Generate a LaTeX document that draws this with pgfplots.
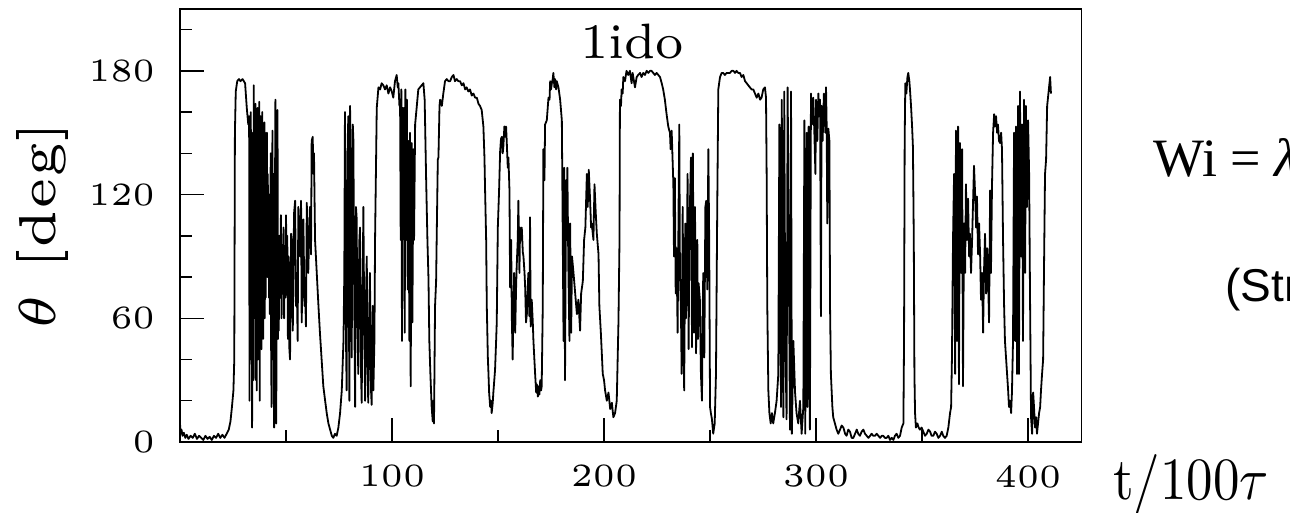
\documentclass[border=0pt]{standalone}
\usepackage{fontspec}
\usepackage{graphicx}
\usepackage{pgfplots}
\pgfplotsset{compat=1.18}
\newfontfamily\timesf{Liberation Serif}
\newfontfamily\arialf{Liberation Sans}
\newcommand{\tl}[1]{\scalebox{6.5}{\fontsize{5}{6}\selectfont #1}}
\begin{document}
\begin{tikzpicture}[x=1pt,y=1pt]
\useasboundingbox (0,0) rectangle (1290,513);
\begin{axis}[
  at={(180pt,71pt)}, anchor=south west,
  scale only axis, width=901.7pt, height=433pt,
  xmin=0, xmax=425.3, ymin=0, ymax=210,
  axis line style={line width=1.4pt, black},
  tick style={line width=1.4pt, black},
  tick align=inside, tick pos=left,
  major tick length=24pt, minor tick length=12pt,
  xtick={100,200,300,400},
  xticklabels={\tl{100},\tl{200},\tl{300},\tl{400}},
  minor xtick={50,150,250,350},
  ytick={0,60,120,180},
  yticklabels={\tl{0},\tl{60},\tl{120},\tl{180}},
  minor ytick={20,40,80,100,140,160,200},
  xticklabel style={inner sep=0pt, anchor=north, yshift=-23pt},
  yticklabel style={inner sep=0pt, anchor=east, xshift=-25pt},
]
\addplot[black, line width=1.8pt, line join=round, no markers] coordinates {
(0,9)(0.3,4)(0.7,6)(1.2,3)(1.8,4.5)(2.5,2)(3.2,3.5)(4,1.5)(5,3)(6,2)(7,4)(8,1.5)(9,3)(10,2)(11,1)(12,3)(13,1.5)(14,2.5)(15,1)(16,3)(17,2)(18,4)(19,2)(20,3.5)(21,2)(22,4)(23,6)(23.8,10)(24.5,17)(25.2,25)(25.6,40)(25.9,150)(26.3,170)(27,175)(27.8,176)(28.5,175)(29.5,176)(30.7,174)(31.5,162)(32.2,154)
(32.6,158)(32.8,20)(33.0,150)(33.2,40)(33.4,160)(33.6,60)(33.8,140)(34.0,7)(34.2,100)(34.4,150)(34.6,30)(34.8,173)(35.0,60)(35.2,160)(35.4,90)(35.6,164)(35.8,30)(36.0,120)(36.2,25)(36.4,150)(36.6,162)(36.8,40)(37.0,150)(37.2,50)(37.4,165)(37.6,20)(37.8,140)(38.0,158)(38.2,60)(38.4,45)(38.6,150)(38.8,160)(39.0,70)(39.2,50)(39.4,140)(39.6,100)(39.8,155)(40.0,60)(40.2,150)(40.4,70)(40.6,140)(40.8,95)(41.0,150)(41.2,80)(41.4,130)(41.6,100)(41.8,116)(42.0,70)(42.2,120)(42.4,62)(42.6,110)(42.8,140)(43.0,40)(43.2,17)(43.4,90)(43.6,151)(43.8,60)(44.0,40)(44.2,130)(44.4,7)(44.6,60)(44.8,120)(45.0,166)(45.2,60)(45.4,9)(45.6,80)(45.8,100)(46.0,161)(46.2,50)(46.4,90)(46.6,54)(46.8,100)(47.0,83)(47.3,70)(47.6,110)(47.9,60)(48.2,85)(48.5,75)(48.8,104)(49.1,60)(49.4,95)(49.7,70)(50.0,110)(50.3,80)(50.6,100)(50.9,50)(51.2,90)(51.6,45)
(51.9,40)(52.4,101)(52.7,98)(53.2,54)(53.8,111)(54.3,117)(54.7,66)(55.0,82)(55.5,49)(55.8,114)(56.6,90)(57.1,117)(57.4,58)(58.2,108)(58.7,66)(59.0,74)(59.4,56)(59.8,116)(60.5,82)(61.0,104)(61.3,114)(61.8,91)(62.1,146)(62.6,148)(62.9,130)(63.2,140)(63.7,98)(64.5,82)(65.3,66)(66.0,53)(66.8,40)(67.6,27)(69.2,14)(70.0,9)(70.8,6)(71.6,3)(72.3,2)(73.1,4)(73.9,3)(74.7,7)(75.5,14)(76.3,25)(77.1,49)(77.5,82)(77.8,160)(78.1,80)(78.3,49)(78.6,25)(78.9,120)(79.1,146)(79.4,158)(79.7,60)(79.9,20)(80.2,163)(80.5,140)(80.7,98)(81.0,41)(81.3,120)(81.5,154)(81.8,146)(82.0,100)(82.2,66)(82.6,17)(82.8,90)(83.0,114)(83.3,109)(83.6,70)(83.8,49)(84.1,33)(84.4,80)(84.6,98)(84.9,104)(85.2,60)(85.4,33)(85.7,19)(86.0,60)(86.2,82)(86.5,114)(86.8,70)(87.0,49)(87.3,20)(87.6,60)(87.8,74)(88.1,90)(88.3,50)(88.5,33)(88.8,19)(89.1,50)(89.3,66)(89.6,82)(89.9,40)(90.1,25)(90.4,18)(90.7,50)(90.9,66)(91.2,25)(91.7,49)(92.0,98)(92.5,138)(92.8,162)(93.6,172)(94.4,171)(95.1,174)(95.9,173)(96.7,171)(97.5,173)(98.3,169)(99.1,172)(99.9,170)(100.6,167)(101.4,175)(102.2,178)(102.7,172)(103.0,174)(103.5,163)
(103.8,166)(104.1,98)(104.4,171)(104.7,49)(105.1,162)(105.4,114)(105.7,162)(106.0,53)(106.3,171)(106.6,98)(107.0,166)(107.4,74)(107.7,146)(108.2,49)(108.5,150)(108.8,27)(109.3,145)(109.6,58)(110.1,142)(110.4,98)(110.9,154)(111.7,163)(112.4,171)(113.2,172)(114.0,173)(114.8,174)(115.4,166)(116.1,127)(116.7,98)(117.2,79)(117.6,49)(118.1,33)(118.7,17)(119.2,10)(119.5,20)(119.8,9)(120.3,66)(120.8,78)(121.1,101)(121.6,137)(121.9,138)(122.4,163)(122.7,166)(123.5,163)(124.2,169)(125.0,175)(125.8,176)(126.6,175)(127.4,175)(128.2,177)(129.0,178)(129.7,175)(130.5,176)(131.3,175)(132.1,175)(132.9,173)(133.7,174)(134.5,171)(135.2,172)(136.0,170)(136.8,171)(137.6,168)(138.4,169)(139.2,167)(140.0,167)(140.8,164)(141.5,163)(142.3,161)(143.1,153)(143.6,138)(143.9,122)(144.4,98)(144.7,66)(145.2,41)(145.5,33)(145.8,24)(146.3,17)(146.7,20)(147.0,14)(147.5,19)(147.8,24)(148.6,35)(149.1,49)(149.4,58)(149.9,104)(150.5,122)(151.0,141)(151.4,147)(151.8,148)(152.2,140)(152.5,143)(153.0,153)(153.3,148)(153.8,153)(154.1,146)(154.6,133)(154.9,138)(155.4,122)
(155.7,75)(156.2,98)(156.5,61)(156.9,40)(157.3,66)(157.6,82)(158.1,53)(158.5,74)(158.8,85)(159.3,98)(159.6,117)(160.1,82)(160.4,104)(160.7,98)(161.2,104)(161.7,92)(162.0,90)(162.5,82)(162.8,75)(163.2,58)(163.6,62)(164.0,74)(164.3,82)(164.8,61)(165.1,109)(165.4,56)(165.9,69)(166.4,58)(166.7,49)(167.5,33)(168.0,24)(168.3,28)(168.8,22)(169.1,27)(169.5,23)(169.9,30)(170.3,25)(170.6,27)(171.1,66)(171.4,142)(171.9,127)(172.2,154)(173.0,156)(173.8,167)(174.3,166)(174.6,175)(175.0,171)(175.4,174)(175.8,176)(176.1,179)(176.6,172)(176.9,176)(177.4,171)(177.7,175)(178.5,172)(179.3,166)(180.1,156)(180.5,104)(180.9,49)(181.2,133)(181.6,30)(182.1,127)(182.4,98)(182.7,133)(183.2,82)(183.7,49)(184.0,106)(184.5,53)(184.9,90)(185.6,82)(186.4,72)(187.2,62)(187.9,69)(188.7,54)(189.2,72)(190.0,78)(190.6,98)(191.2,104)(191.9,130)(192.3,114)(192.8,132)(193.4,118)(193.9,104)(194.2,106)(195.0,98)(195.5,125)(196.1,111)(196.6,101)(197.4,91)(197.8,66)(198.5,53)(199.4,33)(200.0,30)(200.5,25)(201.3,20)(202.1,24)(202.9,16)(203.7,19)(204.4,12)(205.2,14)(206.0,20)(206.8,58)(207.3,98)
(207.5,166)(208.0,163)(208.3,171)(208.8,169)(209.1,177)(209.9,175)(210.6,180)(211.4,178)(212.2,180)(213.0,174)(213.5,179)(213.8,177)(214.6,172)(215.4,177)(216.1,178)(217.0,179)(217.7,177)(218.5,179)(219.3,178)(220.1,180)(220.9,179)(221.7,180)(222.4,180)(223.2,179)(224.0,178)(224.8,179)(225.6,178)(226.4,177)(227.2,174)(227.9,171)(228.7,166)(229.5,159)(230.3,153)(230.8,151)(231.1,150)(231.4,142)(231.9,151)(232.3,138)(232.7,125)(233.0,90)(233.4,128)(233.8,72)(234.2,94)(234.7,53)(235.2,119)(235.5,154)(235.8,82)(236.3,62)(236.6,33)(237.1,114)(237.4,61)(237.8,25)(238.3,106)(238.6,60)(239.0,82)(239.4,130)(239.9,45)(240.2,90)(240.5,114)(241.0,138)(241.5,46)(241.9,140)(242.4,53)(242.6,90)(242.9,114)(243.4,43)(243.7,80)(244.0,98)(244.3,50)(244.6,77)(245.2,69)(245.7,33)(246.2,20)(246.5,60)(246.8,82)(247.3,41)(247.8,114)(248.2,117)(248.7,74)(249.2,142)(249.6,98)(250.0,17)(250.4,14)(250.9,11)(251.5,4)(252.2,9)(252.8,33)(253.4,114)(253.9,171)(254.7,177)(255.5,179)(256.2,179)(257.0,178)(257.8,179)(258.6,179)
(259.4,179)(260.2,180)(261.0,180)(261.8,179)(262.5,180)(263.3,179)(264.1,179)(264.9,177)(265.7,178)(266.5,175)(267.3,174)(268.0,173)(268.8,172)(269.6,171)(270.4,171)(271.2,169)(272.0,167)(272.8,169)(273.6,166)(274.3,167)(275.1,171)(275.9,172)(276.4,167)(276.7,130)(277.0,66)(277.5,25)(278.0,14)(278.6,9)(279.2,14)(279.8,9)(280.6,14)(281.4,20)(282.2,33)(282.7,154)(283.0,82)(283.5,17)(283.8,166)(284.2,114)(284.6,12)(285.0,170)(285.5,49)(286.1,11)(286.6,172)(287.1,98)(287.7,6)(288.2,170)(288.6,4)(289.3,49)(290.1,24)(290.8,14)(291.6,9)(292.4,20)(293.2,4)(294.0,17)(294.5,156)(294.9,4)(295.6,150)(296.0,17)(296.5,153)(297.1,6)(297.6,169)(298.1,154)(298.7,167)(299.2,150)(299.7,130)(300.0,166)(300.6,146)(301.1,169)(301.5,159)(301.9,166)(302.3,61)(302.6,163)(303.1,146)(303.7,169)(304.4,150)(304.7,172)(305.0,154)(305.3,106)(305.8,152)(306.3,146)(306.6,66)(307.0,33)(307.7,17)(308.1,12)(308.9,9)(309.7,6)(310.5,4)
(311.3,6)(312.1,8)(312.9,7)(313.7,4)(314.4,3)(315.2,6)(316.0,5)(316.8,2)(317.6,2)(318.4,4)(319.2,6)(319.9,4)(320.7,3)(321.5,5)(322.3,6)(323.1,4)(323.9,3)(324.7,2)(325.5,3)(326.2,4)(327.0,3)(327.8,3)(328.6,4)(329.4,3)(330.2,2)(331.0,3)(331.7,3)(332.5,2)(333.3,2)(334.1,3)(334.9,1)(335.7,2)(336.5,1)(337.2,3)(338.0,4)(338.8,2)(339.6,3)(340.4,7)(341.2,9)(341.5,49)(341.8,146)(342.1,174)(342.6,169)(343.1,177)(343.5,179)(344.0,175)(344.3,171)(344.8,163)(345.3,153)(345.7,143)(346.1,98)(346.4,33)(346.7,14)(347.1,7)(347.8,9)(348.4,7)(349.0,6)(349.8,7)(350.6,5)(351.4,3)(352.2,4)(353.0,6)(353.8,5)(354.5,3)(355.3,3)(356.1,5)(356.9,4)(357.7,2)(358.5,3)(359.3,5)(360.0,3)(360.8,2)(361.6,3)(362.4,7)(363.2,14)
(363.7,17)(364.1,41)(364.6,98)(365.1,130)(365.6,33)(366.0,151)(366.5,49)(367.0,153)(367.4,28)(367.9,145)(368.4,82)(368.9,142)(369.3,27)(369.8,106)(370.3,82)(370.7,125)(371.2,98)(371.7,118)(372.2,90)(372.6,101)(373.1,82)(373.6,98)(374.0,114)(374.5,134)(375.0,121)(375.5,104)(375.9,119)(376.4,91)(376.9,106)(377.4,90)(377.8,69)(378.3,82)(378.8,53)(379.2,82)(379.7,101)(380.2,72)(380.7,94)(381.1,82)(381.6,58)(382.1,122)(382.5,82)(383.0,125)(383.5,150)(384.0,159)(384.4,153)(384.9,158)(385.4,150)(385.8,154)(386.3,146)(386.8,145)(387.3,150)(387.7,142)(388.2,98)(388.7,66)(389.1,49)(389.6,41)(390.1,33)(390.6,25)(391.0,17)(391.5,20)(392.0,14)(392.4,24)(392.9,49)(393.4,150)(393.6,90)(393.9,49)(394.3,153)(394.5,100)(394.8,33)(395.0,120)(395.3,163)(395.5,80)(395.7,33)(396.2,170)(396.4,120)(396.7,90)(397.2,154)(397.4,100)(397.6,49)(398.1,166)(398.3,120)(398.6,82)(399.0,163)(399.2,130)(399.5,114)(400.0,156)(400.5,130)(400.9,74)(401.4,12)(401.9,4)(402.4,24)(402.8,17)(403.3,7)(403.8,12)(404.2,4)(404.7,9)(405.2,14)(405.7,17)(406.1,25)(406.6,33)(407.1,40)(407.5,82)(408.0,130)(408.5,137)(409.0,163)(409.4,167)(409.9,172)(410.4,177)(410.8,169)
};
\end{axis}
\node[anchor=base, inner sep=0pt] at (632,454) {\scalebox{7.1}{\fontsize{7}{8}\selectfont 1ido}};
\node[rotate=90, inner sep=0pt] at (43,287) {\scalebox{10.4}{\fontsize{5}{6}\selectfont $\theta$ [deg]}};
\node[anchor=base west, inner sep=0pt] at (1153,336) {\timesf\fontsize{54}{60}\selectfont Wi = \textit{λ}};
\node[anchor=base west, inner sep=0pt] at (1225,211) {\arialf\fontsize{46}{50}\selectfont (Str};
\node[anchor=base west, inner sep=0pt] at (1113,13) {\scalebox{5.3}[6.0]{\fontsize{10}{12}\selectfont t/100$\tau$}};
\end{tikzpicture}
\end{document}
